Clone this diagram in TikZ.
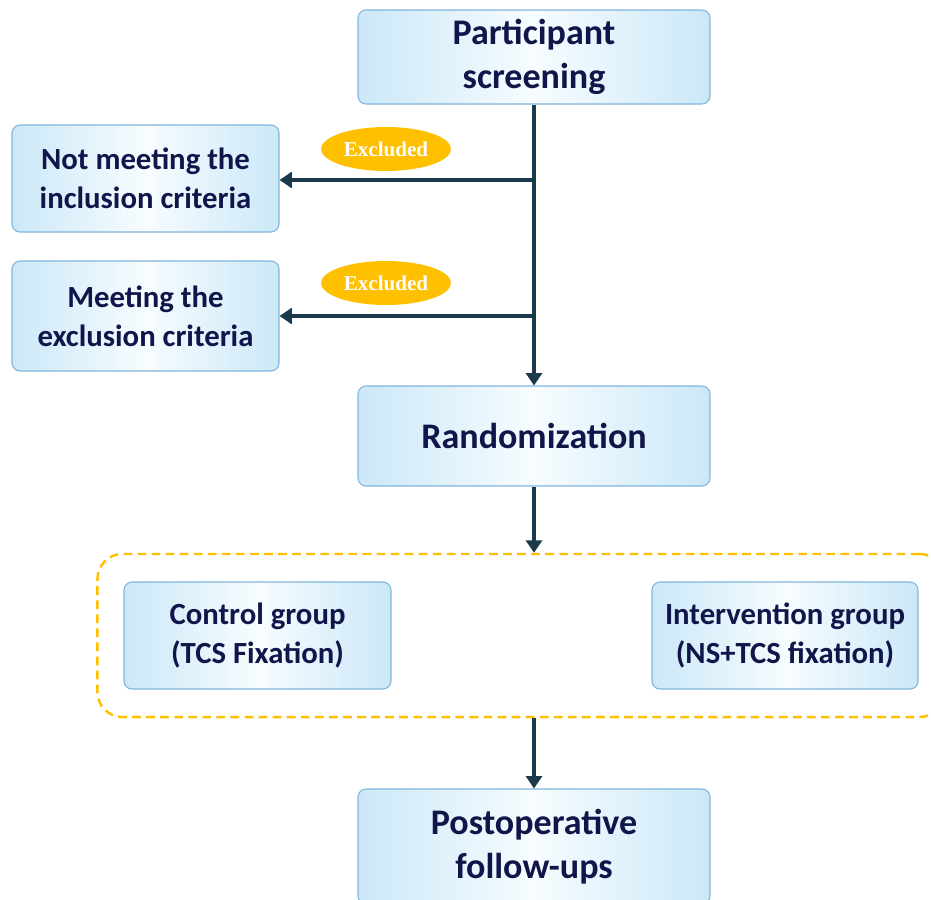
\documentclass[tikz,border=0pt]{standalone}
\usepackage{fontspec}
\setmainfont{Carlito}
\newfontfamily\exclfont{Liberation Serif}
\usepackage{xcolor}
\usetikzlibrary{arrows.meta,fit,shapes.geometric}
\definecolor{navytext}{HTML}{10164A}
\definecolor{flowline}{HTML}{1B3A4B}
\definecolor{boxrim}{HTML}{80B4DD}
\definecolor{boxedge}{HTML}{CBE8F8}
\definecolor{boxmid}{HTML}{F7FCFF}
\definecolor{amber}{HTML}{FFC000}
\tikzset{
	stagebox/.style={
			draw=boxrim, line width=0.6pt, rounded corners=0.16cm,
			left color=boxedge, right color=boxedge, middle color=boxmid,
			text=navytext, align=center, font=\bfseries,
			minimum width=7.04cm
		},
	mainbox/.style={stagebox, font=\fontsize{20.5}{25}\selectfont\bfseries},
	sidebox/.style={stagebox, minimum width=5.34cm, minimum height=2.14cm,
			font=\fontsize{17.5}{22}\selectfont\bfseries},
	exclbadge/.style={
			ellipse, fill=amber, draw=none, text=white, inner sep=0pt,
			minimum width=2.6cm, minimum height=0.88cm,
			font=\exclfont\fontsize{12}{13}\selectfont\bfseries
		},
	groupbox/.style={draw=amber, line width=1.4pt, dash pattern=on 5pt off 3pt,
			rounded corners=0.5cm, inner xsep=0.52cm, inner ysep=0.55cm},
	flow/.style={draw=flowline, line width=2.2pt, -{Triangle[width=9pt,length=7pt]}}
}

\begin{document}
\begin{tikzpicture}
		\useasboundingbox (0, 0) rectangle (18.62, -17.98);

		\node[mainbox, minimum height=1.88cm]	(screen)	at (10.68, -1.14)	{Participant\\screening};
		\node[sidebox]	(notmeet)	at (2.91, -3.57)	{Not meeting the\\inclusion criteria};
		\node[sidebox, minimum height=2.2cm]	(meetex)	at (2.91, -6.32)	{Meeting the\\exclusion criteria};
		\node[mainbox, minimum height=2.0cm]	(random)	at (10.68, -8.72)	{Randomization};
		\node[sidebox]	(ctrl)	at (5.15, -12.71)	{Control group\\(TCS Fixation)};
		\node[sidebox, minimum width=5.32cm]	(interv)	at (15.70, -12.71)	{Intervention group\\(NS+TCS fixation)};
		\node[mainbox, minimum height=2.3cm]	(post)	at (10.68, -16.93)	{Postoperative\\follow-ups};

		\node[groupbox, fit=(ctrl)(interv)]	(groups)	{};

		\node[exclbadge]	(excl1)	at (7.72, -2.98)	{Excluded};
		\node[exclbadge]	(excl2)	at (7.72, -5.66)	{Excluded};

		\coordinate (split1) at (10.68, -3.60);
		\coordinate (split2) at (10.68, -6.32);

		% main line and the two exclusions
		\draw[flow]	(screen) -- (random);
		\draw[flow]	(split1) -- (split1 -| notmeet.east);
		\draw[flow]	(split2) -- (meetex);

		\draw[flow]	(random) -- (random |- groups.north);
		\draw[flow]	(groups.south -| post.north) -- (post);
	\end{tikzpicture}
\end{document}
